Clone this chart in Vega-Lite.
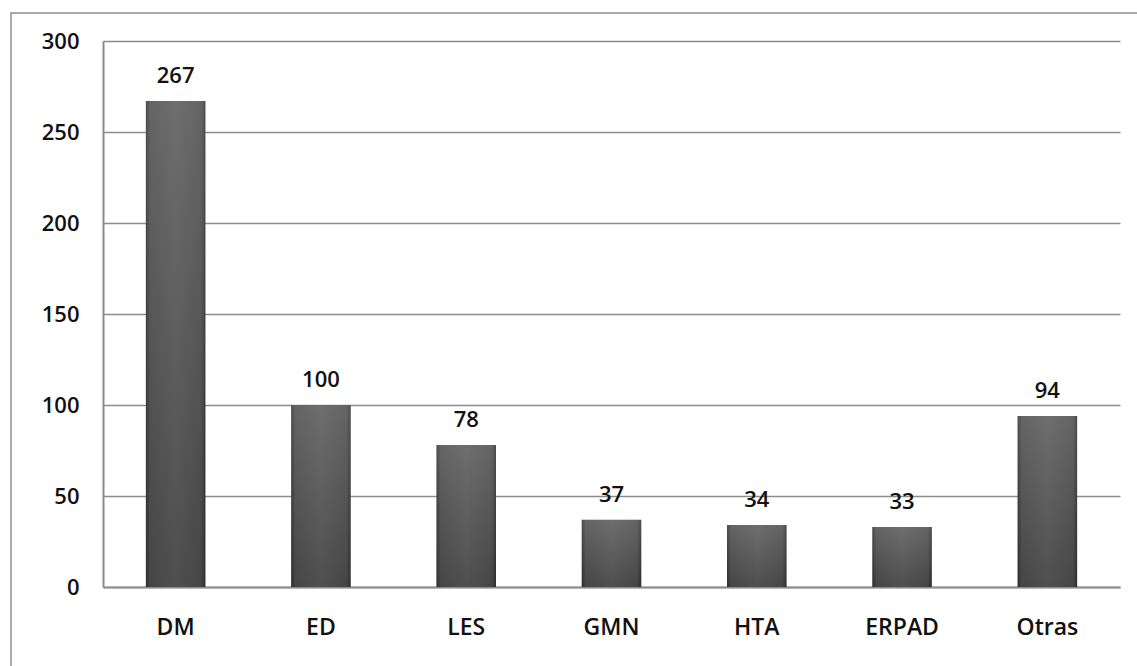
{
  "$schema": "https://vega.github.io/schema/vega-lite/v6.json",
  "autosize": "none",
  "padding": {"left": 11, "top": 13, "right": -3, "bottom": -3},
  "width": 1129,
  "height": 656,
  "background": "white",
  "config": {
    "view": {"stroke": "#8f8f8f", "strokeWidth": 1.5},
    "font": "Open Sans"
  },
  "data": {
    "values": [
      {"categoria": "DM", "casos": 267},
      {"categoria": "ED", "casos": 100},
      {"categoria": "LES", "casos": 78},
      {"categoria": "GMN", "casos": 37},
      {"categoria": "HTA", "casos": 34},
      {"categoria": "ERPAD", "casos": 33},
      {"categoria": "Otras", "casos": 94}
    ]
  },
  "encoding": {
    "x": {
      "field": "categoria",
      "type": "nominal",
      "sort": null,
      "scale": {"range": [92, 1109], "paddingInner": 0.59, "paddingOuter": 0.295},
      "axis": {
        "title": null,
        "orient": "bottom",
        "offset": -82,
        "labelAngle": 0,
        "ticks": false,
        "domainColor": "#8c8c8c",
        "domainWidth": 2,
        "labelFontSize": 23,
        "labelFontWeight": 600,
        "labelColor": "#111111",
        "labelPadding": 29,
        "grid": false
      }
    },
    "y": {
      "field": "casos",
      "type": "quantitative",
      "scale": {"domain": [0, 300], "range": [574, 28], "nice": false},
      "axis": {
        "title": null,
        "orient": "left",
        "offset": -92,
        "values": [0, 50, 100, 150, 200, 250, 300],
        "ticks": false,
        "domainColor": "#8c8c8c",
        "domainWidth": 2,
        "gridColor": "#8c8c8c",
        "gridWidth": 1.5,
        "labelFontSize": 22,
        "labelFontWeight": 600,
        "labelColor": "#111111",
        "labelPadding": 24
      }
    }
  },
  "layer": [
    {
      "mark": {
        "type": "bar",
        "color": {
          "gradient": "linear",
          "x1": 0, "y1": 0, "x2": 1, "y2": 0,
          "stops": [
            {"offset": 0, "color": "#333333"},
            {"offset": 0.07, "color": "#4f4f4f"},
            {"offset": 0.5, "color": "#5a5a5a"},
            {"offset": 0.93, "color": "#4f4f4f"},
            {"offset": 1, "color": "#333333"}
          ]
        }
      }
    },
    {
      "mark": {
        "type": "bar",
        "color": {
          "gradient": "linear",
          "x1": 0, "y1": 0, "x2": 0, "y2": 1,
          "stops": [
            {"offset": 0, "color": "rgba(255,255,255,0.12)"},
            {"offset": 1, "color": "rgba(0,0,0,0.12)"}
          ]
        }
      }
    },
    {
      "mark": {
        "type": "text",
        "baseline": "alphabetic",
        "dy": -18,
        "fontSize": 22,
        "fontWeight": 600,
        "color": "#111111"
      },
      "encoding": {"text": {"field": "casos", "type": "quantitative"}}
    }
  ]
}
